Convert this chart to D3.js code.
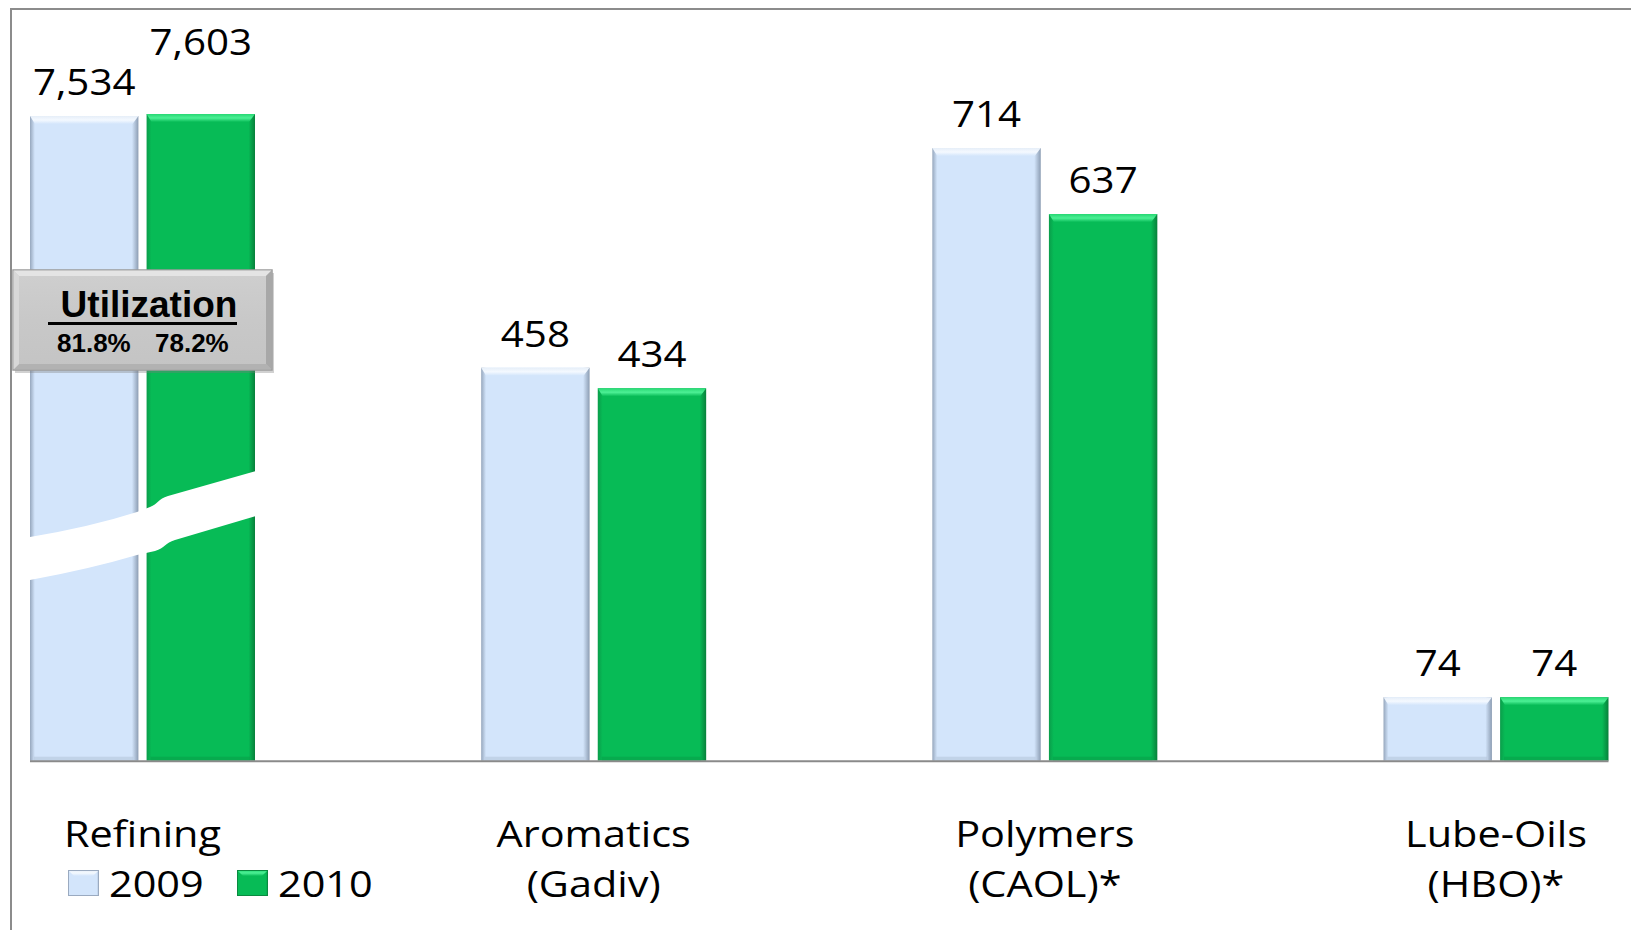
<!DOCTYPE html>
<html>
<head>
<meta charset="utf-8">
<script src="https://cdn.jsdelivr.net/npm/d3@7"></script>
<style>
  html, body { margin: 0; padding: 0; background: #fff; }
  svg { display: block; }
</style>
</head>
<body>
<svg id="chart" width="1631" height="930"></svg>
<script>
// ---- data ----
const categories = ["Refining", "Aromatics", "Polymers", "Lube-Oils"];
const categorySubLabels = ["", "(Gadiv)", "(CAOL)*", "(HBO)*"];
const series = ["2009", "2010"];
const values2009 = [7534, 458, 714, 74];
const values2010 = [7603, 434, 637, 74];
const utilizationTitle = "Utilization";
const utilizationValues = ["81.8%", "78.2%"];

const seriesValues = { "2009": values2009, "2010": values2010 };
const fmt = d3.format(",");

const svg = d3.select("#chart");
const FONT = "'Open Sans', 'Noto Sans', sans-serif";
const SX = 1.12; // horizontal stretch of the original slide text

// ---- scales ----
// broken value axis: lower segment linear, upper (refining) segment compressed
const y = d3.scaleLinear()
  .domain([0, 720, 7000, 8000])
  .range([760.7, 142.9, 131.5, 102.5]);
const x0 = d3.scalePoint().domain(categories).range([142.5, 1496]);
const x1 = d3.scaleBand().domain(series).range([-112.5, 112.5]).paddingInner(0.07);

// ---- gradients (bevel look) ----
const defs = svg.append("defs");
function hGrad(id, edgeL, base, edgeR) {
  const g = defs.append("linearGradient").attr("id", id)
    .attr("x1", 0).attr("y1", 0).attr("x2", 1).attr("y2", 0);
  g.append("stop").attr("offset", 0).attr("stop-color", edgeL);
  g.append("stop").attr("offset", 0.045).attr("stop-color", base);
  g.append("stop").attr("offset", 0.94).attr("stop-color", base);
  g.append("stop").attr("offset", 1).attr("stop-color", edgeR);
}
function vGrad(id, c1, c2, c3) {
  const g = defs.append("linearGradient").attr("id", id)
    .attr("x1", 0).attr("y1", 0).attr("x2", 0).attr("y2", 1);
  g.append("stop").attr("offset", 0).attr("stop-color", c1);
  g.append("stop").attr("offset", 0.5).attr("stop-color", c2);
  g.append("stop").attr("offset", 1).attr("stop-color", c3);
}
hGrad("g2009", "#96a7bd", "#d3e5fb", "#8c9db3");
hGrad("g2010", "#0a9d4a", "#07bb56", "#08803b");
vGrad("t2009", "#e6eef8", "#f4f9ff", "#d3e5fb");
vGrad("t2010", "#27d873", "#4cf095", "#07bb56");
vGrad("boxGrad", "#cfcfcf", "#c8c8c8", "#c4c4c4");

const colors = {
  "2009": { fill: "url(#g2009)", top: "url(#t2009)", bottom: "#b6c6dc" },
  "2010": { fill: "url(#g2010)", top: "url(#t2010)", bottom: "#09a04a" }
};

// ---- frame ----
svg.append("line").attr("x1", 10).attr("x2", 1631).attr("y1", 9).attr("y2", 9)
  .attr("stroke", "#8c8c8c").attr("stroke-width", 2);
svg.append("line").attr("x1", 11).attr("x2", 11).attr("y1", 8).attr("y2", 930)
  .attr("stroke", "#8c8c8c").attr("stroke-width", 2);

// ---- bars ----
const rows = [];
categories.forEach((c, i) => series.forEach(s => rows.push({ cat: c, s, v: seriesValues[s][i] })));

const bars = svg.append("g").selectAll("g").data(rows).join("g");
bars.each(function(d) {
  const g = d3.select(this);
  const bx = x0(d.cat) + x1(d.s);
  const bw = x1.bandwidth();
  const top = y(d.v), h = y(0) - y(d.v);
  g.append("rect").attr("x", bx).attr("y", top).attr("width", bw).attr("height", h)
    .attr("fill", colors[d.s].fill);
  // top bevel (chamfered)
  g.append("path")
    .attr("d", `M${bx},${top} L${bx + bw},${top} L${bx + bw - 6},${top + 8} L${bx + 5},${top + 8} Z`)
    .attr("fill", colors[d.s].top);
  // bottom bevel
  g.append("rect").attr("x", bx + 4).attr("y", y(0) - 4).attr("width", bw - 9).attr("height", 4)
    .attr("fill", colors[d.s].bottom).attr("opacity", 0.6);
});

// ---- axis baseline ----
svg.append("line")
  .attr("x1", x0(categories[0]) + x1(series[0]))
  .attr("x2", x0(categories[categories.length - 1]) + x1(series[1]) + x1.bandwidth())
  .attr("y1", y(0) + 0.5).attr("y2", y(0) + 0.5)
  .attr("stroke", "#8a8a8a").attr("stroke-width", 2);

// ---- axis break on the refining bars ----
const bx0 = x0(categories[0]) + x1(series[0]);
const bx1 = x0(categories[0]) + x1(series[1]) + x1.bandwidth();
svg.append("path")
  .attr("d", `M${bx0},537 Q${bx0 + 60},527 ${bx0 + 107},512 L${bx0 + 120},507
              C${bx0 + 128},504 ${bx0 + 128},499 ${bx0 + 138},496 L${bx1 + 1},471
              L${bx1 + 1},516 L${bx0 + 145},540 C${bx0 + 135},543 ${bx0 + 135},548 ${bx0 + 125},551
              L${bx0 + 107},555 Q${bx0 + 60},569 ${bx0},580 Z`)
  .attr("fill", "#fff");

// ---- value labels ----
svg.append("g").selectAll("text").data(rows).join("text")
  .attr("transform", d => {
    const cx = x0(d.cat) + x1(d.s) + x1.bandwidth() / 2;
    const lift = (d.cat === "Refining" && d.s === "2010") ? 59 : 21;
    return `translate(${cx},${y(d.v) - lift}) scale(${SX},1)`;
  })
  .attr("text-anchor", "middle")
  .attr("font-family", FONT).attr("font-size", 36).attr("fill", "#000")
  .text(d => fmt(d.v));

// ---- category labels ----
const catG = svg.append("g").selectAll("g").data(categories).join("g");
catG.append("text")
  .attr("transform", d => `translate(${x0(d)},847) scale(${SX},1)`)
  .attr("text-anchor", "middle")
  .attr("font-family", FONT).attr("font-size", 37).attr("fill", "#000")
  .text(d => d);
catG.append("text")
  .attr("transform", d => `translate(${x0(d)},897) scale(${SX},1)`)
  .attr("text-anchor", "middle")
  .attr("font-family", FONT).attr("font-size", 37).attr("fill", "#000")
  .text((d, i) => categorySubLabels[i]);

// ---- legend (under "Refining") ----
const legendX = [68, 237];
const legend = svg.append("g").selectAll("g").data(series).join("g")
  .attr("transform", (d, i) => `translate(${legendX[i]},870)`);
legend.append("rect").attr("width", 31).attr("height", 26)
  .attr("fill", d => colors[d].fill);
legend.append("path")
  .attr("d", "M0,0 L31,0 L25,6 L6,6 Z")
  .attr("fill", d => colors[d].top);
legend.append("rect").attr("x", 0.5).attr("y", 0.5).attr("width", 30).attr("height", 25)
  .attr("fill", "none").attr("stroke", d => d === "2009" ? "#9aaac0" : "#0a8a40").attr("stroke-width", 1);
legend.append("text")
  .attr("transform", `translate(41,27) scale(${SX},1)`)
  .attr("font-family", FONT).attr("font-size", 37).attr("fill", "#000")
  .text(d => d);

// ---- utilization annotation box ----
const ub = svg.append("g");
ub.append("rect").attr("x", 15).attr("y", 273).attr("width", 259).attr("height", 100)
  .attr("fill", "#7a7a7a").attr("opacity", 0.35);
ub.append("rect").attr("x", 13).attr("y", 270).attr("width", 259).attr("height", 100)
  .attr("fill", "url(#boxGrad)").attr("stroke", "#9c9c9c").attr("stroke-width", 1.5);
ub.append("path").attr("d", "M13.5,270.5 L271.5,270.5 L266,276 L19,276 Z").attr("fill", "#e4e4e4");
ub.append("path").attr("d", "M13.5,369.5 L271.5,369.5 L266,364 L19,364 Z").attr("fill", "#b2b2b2");
ub.append("path").attr("d", "M271.5,270.5 L271.5,369.5 L266,364 L266,276 Z").attr("fill", "#a8a8a8");
ub.append("path").attr("d", "M13.5,270.5 L13.5,369.5 L19,364 L19,276 Z").attr("fill", "#d8d8d8");
ub.append("text")
  .attr("x", 149).attr("y", 317).attr("text-anchor", "middle")
  .attr("font-family", "'Liberation Sans', Arial, sans-serif").attr("font-weight", "bold")
  .attr("font-size", 37).attr("fill", "#000")
  .text(utilizationTitle);
ub.append("line").attr("x1", 48).attr("x2", 237).attr("y1", 323.5).attr("y2", 323.5)
  .attr("stroke", "#000").attr("stroke-width", 3);
ub.selectAll("text.u").data(utilizationValues).join("text").attr("class", "u")
  .attr("x", (d, i) => [57, 155][i]).attr("y", 352)
  .attr("font-family", "'Liberation Sans', Arial, sans-serif").attr("font-weight", "bold")
  .attr("font-size", 26).attr("fill", "#000")
  .text(d => d);
</script>
</body>
</html>
